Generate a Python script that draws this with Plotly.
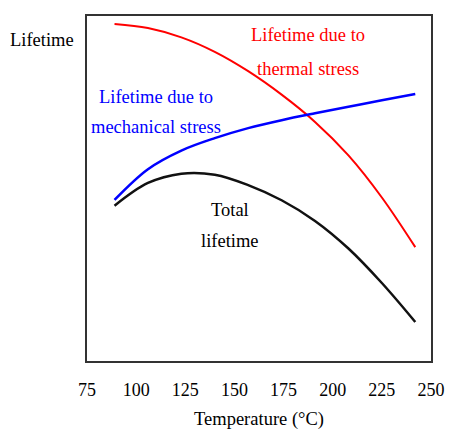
import plotly.graph_objects as go

temps = [89, 106, 123, 140, 157, 174, 191, 208, 225, 242]
life_thermal = [97.7, 96.5, 93.8, 89.6, 84.0, 77.2, 69.3, 59.6, 47.4, 33.0]
life_mech = [46.7, 55.6, 61.0, 64.6, 67.5, 69.8, 71.8, 73.7, 75.6, 77.4]
life_total = [45.0, 51.6, 54.3, 54.0, 51.0, 46.6, 40.6, 32.6, 22.6, 11.3]

x_ticks = [75, 100, 125, 150, 175, 200, 225, 250]

FONT = "Liberation Serif, Times New Roman, serif"

fig = go.Figure()
fig.add_trace(go.Scatter(x=temps, y=life_thermal, mode="lines",
                         line=dict(color="#ff0000", width=2, shape="spline", smoothing=1),
                         showlegend=False))
fig.add_trace(go.Scatter(x=temps, y=life_mech, mode="lines",
                         line=dict(color="#0000ff", width=2.5, shape="spline", smoothing=1),
                         showlegend=False))
fig.add_trace(go.Scatter(x=temps, y=life_total, mode="lines",
                         line=dict(color="#111111", width=2.5, shape="spline", smoothing=1),
                         showlegend=False))

ann = [
    dict(x=-0.131, y=0.930, xref="paper", yref="paper", text="Lifetime", color="black"),
    dict(x=187.6, y=94.5, text="Lifetime due to", color="#ff0000"),
    dict(x=187.6, y=84.6, text="thermal stress", color="#ff0000"),
    dict(x=110.0, y=76.5, text="Lifetime due to", color="#0000ff"),
    dict(x=110.0, y=67.8, text="mechanical stress", color="#0000ff"),
    dict(x=147.6, y=43.8, text="Total", color="black"),
    dict(x=147.6, y=34.8, text="lifetime", color="black"),
]
for a in ann:
    color = a.pop("color")
    a.setdefault("xref", "x")
    a.setdefault("yref", "y")
    fig.add_annotation(**a, showarrow=False, xanchor="center", yanchor="middle",
                       font=dict(family=FONT, size=18.5, color=color))

fig.update_layout(
    width=449, height=430,
    margin=dict(l=87, r=18, t=16, b=69),
    plot_bgcolor="white", paper_bgcolor="white",
    font=dict(family=FONT, size=18, color="black"),
)
fig.update_xaxes(range=[75, 250], tickvals=x_ticks, ticks="", showgrid=False, zeroline=False,
                 showline=True, linecolor="#333", linewidth=2, mirror=True,
                 automargin=False, ticklabelstandoff=11,
                 title=dict(text="Temperature (°C)", standoff=14, font=dict(size=18.5)),
                 tickfont=dict(size=18))
fig.update_yaxes(range=[0, 100], showticklabels=False, ticks="", showgrid=False, zeroline=False,
                 showline=True, linecolor="#333", linewidth=2, mirror=True, automargin=False)

fig.write_html("out.html")
